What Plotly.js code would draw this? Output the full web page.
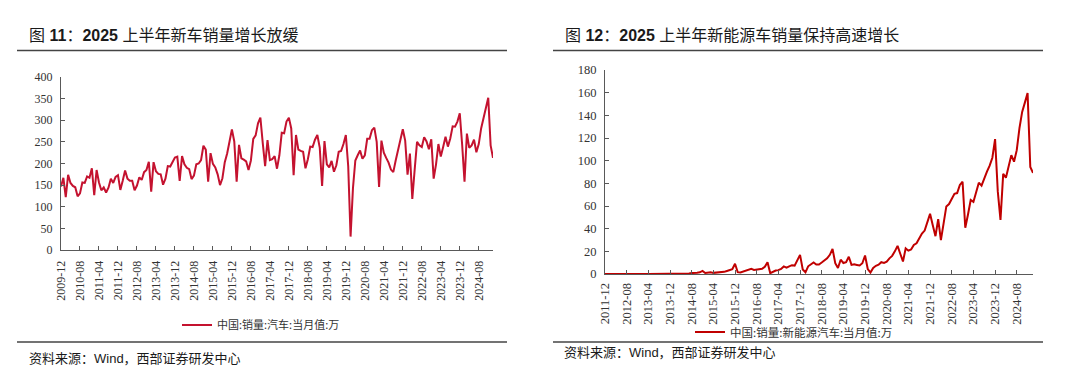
<!DOCTYPE html>
<html>
<head>
<meta charset="utf-8">
<script src="https://cdn.plot.ly/plotly-3.0.1.min.js"></script>
<style>
html,body{margin:0;padding:0;background:#fff;}
#chart{width:1080px;height:385px;}
#chart .xtick text, #chart .ytick text, #chart .x2tick text, #chart .y2tick text { font-family: "Liberation Serif", "Times New Roman", serif !important; }
</style>
</head>
<body>
<div id="chart"></div>
<script>
// ---- data (万辆, 当月值) ----
const autoStart = [2009, 12];
const autoSales = [
  147,
  167, 122, 174, 155, 148, 145, 124, 131, 156, 155, 170, 167,
  189, 127, 185, 156, 138, 145, 133, 144, 165, 155, 169, 173,
  139, 160, 184, 165, 160, 160, 138, 149, 168, 162, 180, 185,
  204, 135, 203, 182, 176, 175, 151, 165, 194, 193, 205, 214,
  216, 160, 217, 198, 190, 187, 164, 172, 198, 200, 208, 241,
  232, 158, 224, 199, 191, 175, 150, 166, 203, 223, 251, 279,
  251, 158, 243, 212, 209, 205, 185, 207, 257, 265, 293, 306,
  247, 194, 254, 208, 210, 217, 188, 219, 271, 270, 297, 306,
  281, 173, 266, 232, 229, 227, 189, 210, 239, 238, 255, 266,
  237, 148, 252, 198, 191, 206, 181, 196, 227, 229, 245, 266,
  194, 31, 143, 207, 219, 230, 211, 219, 257, 257, 277, 283,
  250, 146, 253, 225, 213, 202, 186, 180, 207, 233, 252, 279,
  253, 174, 223, 118, 186, 250, 242, 238, 261, 251, 233, 256,
  165, 198, 245, 216, 238, 262, 239, 258, 286, 285, 297, 316,
  244, 158, 269, 236, 242, 255, 226, 245, 281, 305, 332, 352,
  242, 213
];
const nevStart = [2011, 12];
const nevSales = [
  0.1,
  0.05, 0.06, 0.1, 0.1, 0.1, 0.1, 0.1, 0.1, 0.1, 0.1, 0.1, 0.15,
  0.1, 0.1, 0.1, 0.1, 0.1, 0.1, 0.1, 0.1, 0.2, 0.2, 0.2, 0.3,
  0.2, 0.2, 0.2, 0.3, 0.3, 0.5, 0.5, 0.8, 0.8, 1.2, 1.5, 2.7,
  0.9, 1.3, 1.5, 1.0, 1.1, 1.4, 1.3, 1.9, 2.7, 3.4, 4.3, 9.1,
  1.6, 1.3, 2.2, 3.1, 3.3, 4.5, 3.6, 3.9, 4.4, 4.6, 6.4, 10.4,
  0.7, 1.8, 3.1, 3.4, 4.5, 6.7, 5.6, 6.8, 7.8, 7.4, 12.1, 16.9,
  4.0, 1.5, 6.8, 8.2, 10.2, 8.4, 8.4, 10.1, 12.1, 13.8, 16.9, 22.2,
  9.6, 5.3, 12.6, 9.7, 10.4, 15.2, 8.0, 8.5, 8.0, 7.5, 9.5, 16.3,
  4.4, 1.3, 5.3, 7.2, 8.2, 10.4, 9.8, 10.9, 13.8, 16.0, 20.0, 24.8,
  17.9, 11.0, 22.6, 20.6, 21.7, 25.6, 27.1, 32.1, 35.7, 38.3, 45.0, 53.1,
  43.1, 33.4, 48.4, 29.9, 44.7, 59.6, 61.7, 66.6, 70.8, 71.4, 78.6, 81.4,
  40.8, 52.5, 65.3, 63.6, 71.7, 80.6, 78.0, 84.6, 90.4, 95.6, 102.6, 119.1,
  72.9, 47.7, 88.3, 85.0, 95.5, 104.9, 99.1, 109.3, 128.7, 143.0, 151.2, 159.6,
  94.4, 89.2
];
const autoName = "中国:销量:汽车:当月值:万";
const nevName = "中国:销量:新能源汽车:当月值:万";
const title1 = "图 <b>11</b>：<b>2025</b> 上半年新车销量增长放缓";
const title2 = "图 <b>12</b>：<b>2025</b> 上半年新能源车销量保持高速增长";
const sourceText = "资料来源：Wind，西部证券研发中心";
const tickStep = 8;

// month category labels
function monthLabels(start, n) {
  const out = [];
  let y = start[0], m = start[1];
  for (let i = 0; i < n; i++) {
    out.push(y + "-" + (m < 10 ? "0" + m : "" + m));
    m++; if (m > 12) { m = 1; y++; }
  }
  return out;
}
const autoMonths = monthLabels(autoStart, autoSales.length);
const nevMonths = monthLabels(nevStart, nevSales.length);
const autoTicks = autoMonths.filter((_, i) => i % tickStep === 0);
const nevTicks = nevMonths.filter((_, i) => i % tickStep === 0);

// ---- layout helpers ----
const W = 1080, H = 385;
const px = v => v / W;
const py = v => 1 - v / H;
const serif = "Liberation Serif, serif";
const cjk = "Liberation Sans, Noto Sans CJK SC";
const axisColor = "#595959";
const textColor = "#333333";

const xCommon = {
  type: "category", showgrid: false, zeroline: false, showline: true,
  linecolor: axisColor, linewidth: 1, ticks: "inside", ticklen: 4,
  tickcolor: axisColor, tickangle: -90, tickmode: "array",
  fixedrange: true
};
const yCommon = {
  showgrid: false, zeroline: false, showline: true, linecolor: axisColor,
  linewidth: 1, ticks: "inside", ticklen: 4, tickcolor: axisColor,
  fixedrange: true
};

const traces = [
  {
    x: autoMonths, y: autoSales, type: "scatter", mode: "lines",
    name: autoName, line: { color: "#c4122f", width: 2 },
    xaxis: "x", yaxis: "y", legend: "legend"
  },
  {
    x: nevMonths, y: nevSales, type: "scatter", mode: "lines",
    name: nevName, line: { color: "#c00000", width: 2 },
    xaxis: "x2", yaxis: "y2", legend: "legend2"
  }
];

const layout = {
  width: W, height: H,
  margin: { l: 0, r: 0, t: 0, b: 0, pad: 0 },
  paper_bgcolor: "#ffffff", plot_bgcolor: "#ffffff",
  showlegend: true,
  font: { family: serif },
  xaxis: Object.assign({}, xCommon, {
    domain: [px(61), px(493)], anchor: "y",
    range: [0, autoSales.length - 1],
    tickvals: autoTicks, ticktext: autoTicks,
    tickfont: { family: serif, size: 12, color: textColor },
    ticklabelstandoff: 5
  }),
  yaxis: Object.assign({}, yCommon, {
    domain: [py(250), py(77)], anchor: "x",
    range: [0, 400], dtick: 50, tick0: 0,
    tickfont: { family: serif, size: 12, color: textColor },
    ticklabelstandoff: 5
  }),
  xaxis2: Object.assign({}, xCommon, {
    domain: [px(605), px(1033)], anchor: "y2",
    range: [0, nevSales.length - 1],
    tickvals: nevTicks, ticktext: nevTicks,
    tickfont: { family: serif, size: 12.5, color: textColor },
    ticklabelstandoff: 3
  }),
  yaxis2: Object.assign({}, yCommon, {
    domain: [py(274), py(70)], anchor: "x2",
    range: [0, 180], dtick: 20, tick0: 0,
    tickfont: { family: serif, size: 12.5, color: textColor },
    ticklabelstandoff: 5
  }),
  legend: {
    x: px(177), y: py(325), xanchor: "left", yanchor: "middle",
    orientation: "h", bgcolor: "rgba(0,0,0,0)",
    font: { family: "Noto Sans CJK SC", size: 11, color: textColor }
  },
  legend2: {
    x: px(690), y: py(332), xanchor: "left", yanchor: "middle",
    orientation: "h", bgcolor: "rgba(0,0,0,0)",
    font: { family: "Noto Sans CJK SC", size: 11.5, color: textColor }
  },
  shapes: [
    { type: "line", xref: "paper", yref: "paper", x0: px(17), x1: px(507), y0: py(50.5), y1: py(50.5), line: { color: "#444", width: 1.5 } },
    { type: "line", xref: "paper", yref: "paper", x0: px(17), x1: px(507), y0: py(342), y1: py(342), line: { color: "#444", width: 1.5 } },
    { type: "line", xref: "paper", yref: "paper", x0: px(553), x1: px(1043), y0: py(50.5), y1: py(50.5), line: { color: "#444", width: 1.5 } },
    { type: "line", xref: "paper", yref: "paper", x0: px(553), x1: px(1043), y0: py(342), y1: py(342), line: { color: "#444", width: 1.5 } }
  ],
  annotations: [
    { text: title1, xref: "paper", yref: "paper", x: px(27), y: py(35), xanchor: "left", yanchor: "middle", showarrow: false,
      font: { family: cjk, size: 16, color: "#1a1a1a" } },
    { text: title2, xref: "paper", yref: "paper", x: px(563), y: py(35), xanchor: "left", yanchor: "middle", showarrow: false,
      font: { family: cjk, size: 16, color: "#1a1a1a" } },
    { text: sourceText, xref: "paper", yref: "paper", x: px(27), y: py(358), xanchor: "left", yanchor: "middle", showarrow: false,
      font: { family: cjk, size: 13, color: "#1a1a1a" } },
    { text: sourceText, xref: "paper", yref: "paper", x: px(562), y: py(352), xanchor: "left", yanchor: "middle", showarrow: false,
      font: { family: cjk, size: 13, color: "#1a1a1a" } }
  ]
};

Plotly.newPlot("chart", traces, layout, { staticPlot: true, displayModeBar: false });
</script>
</body>
</html>
